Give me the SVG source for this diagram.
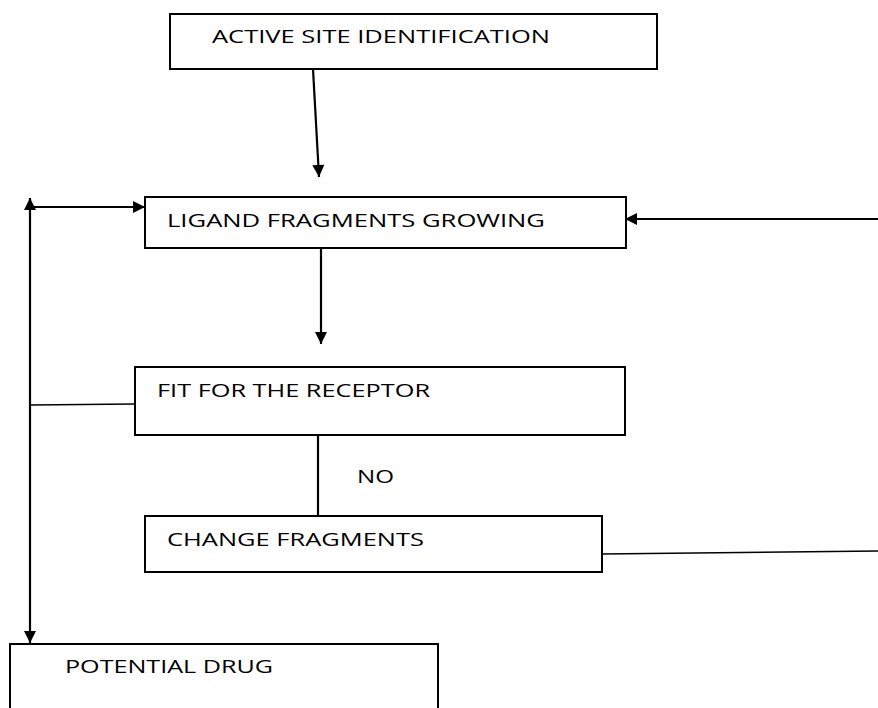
<svg xmlns="http://www.w3.org/2000/svg" width="878" height="708" viewBox="0 0 878 708">
<style>
.box{fill:#fff;stroke:#000;stroke-width:2}
.lbl{font-family:"Open Sans","Liberation Sans",sans-serif;font-size:19px;fill:#000}
.con{stroke:#000;stroke-width:2.2;fill:none}
.thin{stroke:#000;stroke-width:1.5;fill:none}
</style>
<defs>
<marker id="ah" markerUnits="userSpaceOnUse" markerWidth="14" markerHeight="14" viewBox="0 0 14 14" refX="13" refY="7" orient="auto">
<path d="M1,1 L13,7 L1,13 Z" fill="#000"/>
</marker>
</defs>
<g id="connectors">
<line class="con" x1="313" y1="69" x2="319" y2="177" marker-end="url(#ah)"/>
<line class="con" x1="321" y1="248" x2="321" y2="344" marker-end="url(#ah)"/>
<line class="con" x1="30" y1="420" x2="30" y2="198" marker-end="url(#ah)"/>
<line class="con" x1="30" y1="420" x2="30" y2="643" marker-end="url(#ah)"/>
<line class="con" x1="30" y1="207" x2="145" y2="207" marker-end="url(#ah)"/>
<line class="con" x1="878" y1="219" x2="625" y2="219" marker-end="url(#ah)"/>
<line class="thin" x1="135" y1="404" x2="30" y2="405"/>
<line class="con" x1="318" y1="435" x2="318" y2="516"/>
<line class="thin" x1="602" y1="554" x2="878" y2="551"/>
<text class="lbl" x="357" y="483" textLength="37" lengthAdjust="spacingAndGlyphs">NO</text>
</g>
<g id="active-site">
<rect class="box" x="170" y="14" width="487" height="55"/>
<text class="lbl" x="212" y="43" textLength="338" lengthAdjust="spacingAndGlyphs">ACTIVE SITE IDENTIFICATION</text>
</g>
<g id="ligand">
<rect class="box" x="145" y="197" width="481" height="51"/>
<text class="lbl" x="167" y="227" textLength="378" lengthAdjust="spacingAndGlyphs">LIGAND FRAGMENTS GROWING</text>
</g>
<g id="fit">
<rect class="box" x="135" y="367" width="490" height="68"/>
<text class="lbl" x="157" y="397" textLength="273" lengthAdjust="spacingAndGlyphs">FIT FOR THE RECEPTOR</text>
</g>
<g id="change">
<rect class="box" x="145" y="516" width="457" height="56"/>
<text class="lbl" x="167" y="546" textLength="257" lengthAdjust="spacingAndGlyphs">CHANGE FRAGMENTS</text>
</g>
<g id="potential">
<rect class="box" x="10" y="644" width="428" height="80"/>
<text class="lbl" x="65" y="673" textLength="208" lengthAdjust="spacingAndGlyphs">POTENTIAL DRUG</text>
</g>
</svg>
